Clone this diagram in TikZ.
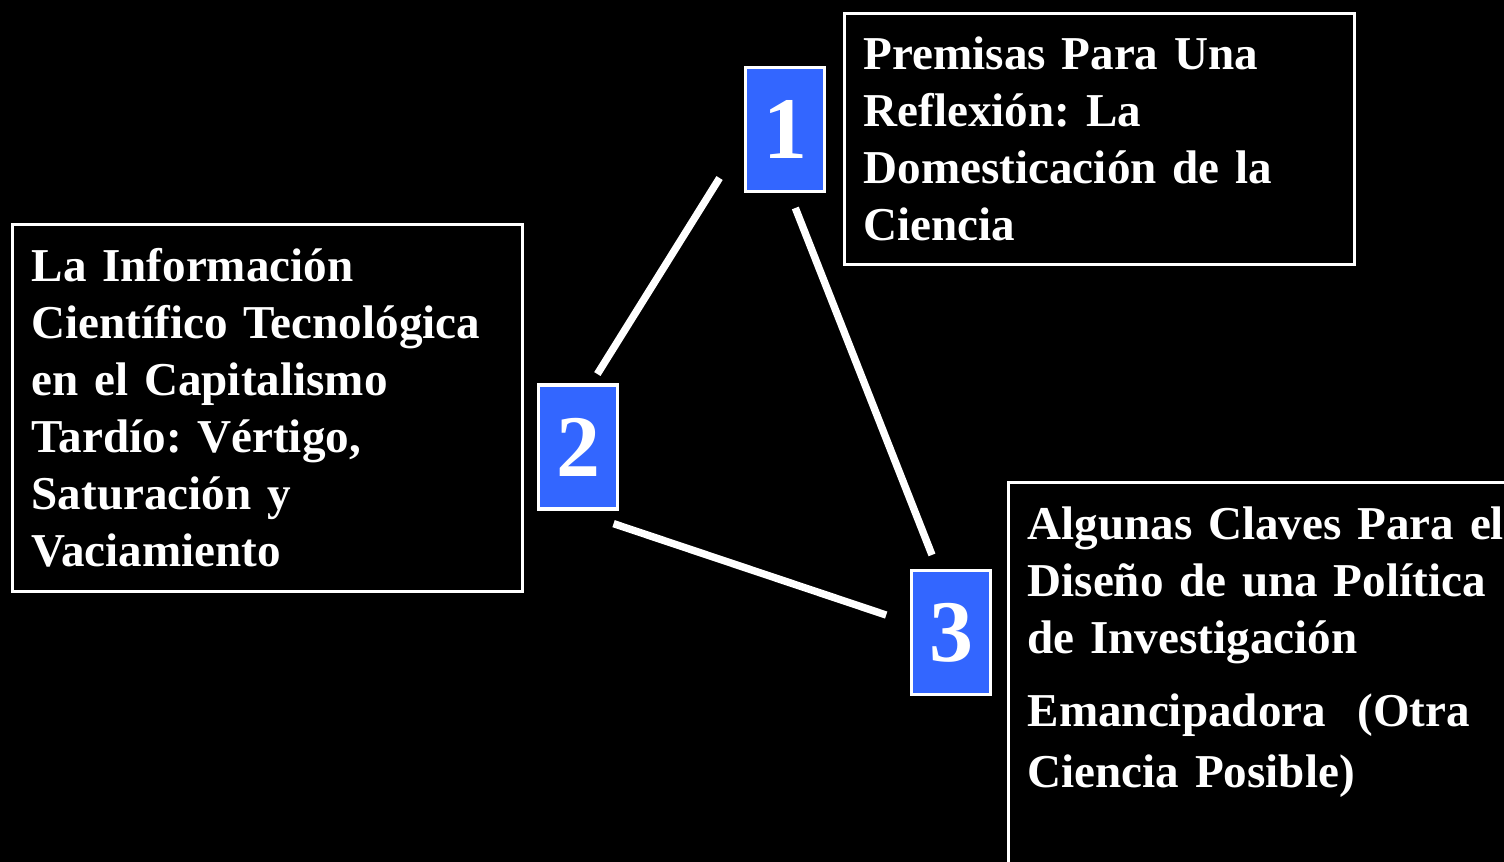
\documentclass[tikz,border=0pt]{standalone}
\usepackage{fontspec}
\setmainfont{Liberation Serif}
\usepackage{tikz}
\definecolor{numblue}{RGB}{51,102,255}
\frenchspacing

\begin{document}
\begin{tikzpicture}[x=0.01cm,y=-0.01cm,line width=0.9pt]
	\tikzstyle{num}=[draw=white,fill=numblue,text=white,minimum width=0.79cm,minimum height=1.24cm,inner sep=0pt,font=\bfseries\fontsize{25}{25}\selectfont]
	\tikzstyle{box}=[draw=white,text=white,align=left,anchor=north west,inner xsep=0.19cm,text width=4.72cm,font=\bfseries\fontsize{13.4}{16.2}\selectfont]
	\tikzstyle{link}=[draw=white,line width=2.1pt]
		\fill[black] (0,0) rectangle (1504,862);
		\clip (0,0) rectangle (1504,862);
		\node[num] (n1) at (785,129.5) {1};
		\node[num] (n2) at (578,447) {2};
		\node[num] (n3) at (951,632.5) {3};
		\node[box,minimum height=2.51cm] (t1) at (843,12) {Premisas Para Una\\Reflexión: La\\Domesticación de la\\Ciencia};
		\node[box,minimum height=3.67cm] (t2) at (11,223) {La Información\\Científico Tecnológica\\en el Capitalismo\\Tardío: Vértigo,\\Saturación y\\Vaciamiento};
		\node[box,text width=4.9cm,inner ysep=0.24cm] (t3) at (1007,481) {Algunas Claves Para el\\Diseño de una Política\\de Investigación\\[0.16cm]Emancipadora\ \ (Otra\\[0.04cm]Ciencia Posible)\rule[-1.3cm]{0pt}{0pt}};
			\draw[link,shorten <=0.11cm,shorten >=0.46cm] (n2.78) -- (n1.193);
			\draw[link,shorten <=0.16cm,shorten >=0.15cm] (n1.274) -- (n3.102);
			\draw[link,shorten <=0.41cm,shorten >=0.25cm] (n2.267) -- (n3.167);
\end{tikzpicture}
\end{document}
